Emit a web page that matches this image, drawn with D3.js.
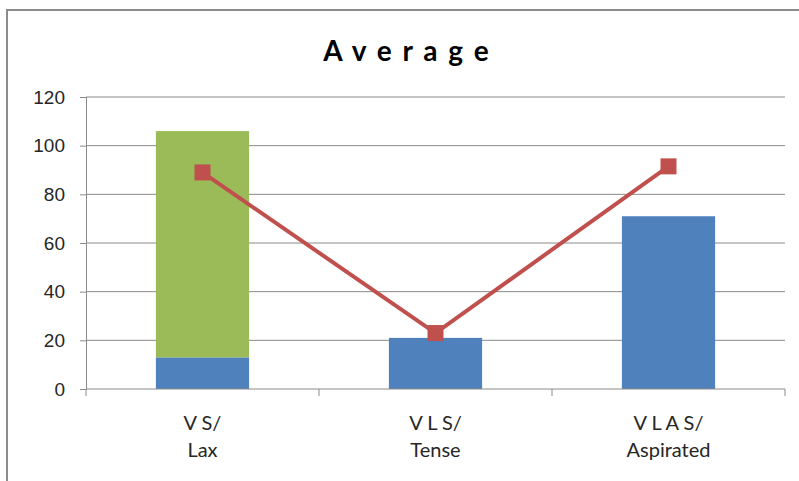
<!DOCTYPE html>
<html>
<head>
<meta charset="utf-8">
<script src="https://cdn.jsdelivr.net/npm/d3@7"></script>
<style>
  body { margin: 0; background: #fff; }
  svg { display: block; font-family: Lato, "Open Sans", sans-serif; }
</style>
</head>
<body>
<svg id="chart"></svg>
<script>
// data
const categories = ["VS", "VLS", "VLAS"];
const labelLines = [["V S/", "Lax"], ["V L S/", "Tense"], ["V L A S/", "Aspirated"]];
const blueValues = [13, 21, 71];
const greenValues = [93, 0, 0];
const lineValues = [89, 23, 91.5];
const yTicks = [0, 20, 40, 60, 80, 100, 120];

const width = 799, height = 481;
const margin = { top: 97, right: 14, bottom: 92, left: 86 };

const svg = d3.select("#chart").attr("width", width).attr("height", height);

// outer frame (runs off the right and bottom)
svg.append("rect")
  .attr("x", 7).attr("y", 10)
  .attr("width", 820).attr("height", 500)
  .attr("fill", "none").attr("stroke", "#8c8c8c").attr("stroke-width", 2);

const x = d3.scaleBand()
  .domain(categories)
  .range([margin.left, width - margin.right])
  .paddingInner(0.6).paddingOuter(0.3);

const y = d3.scaleLinear()
  .domain([0, 120])
  .range([height - margin.bottom, margin.top]);

// gridlines
svg.append("g")
  .selectAll("line")
  .data(yTicks.slice(1))
  .join("line")
    .attr("x1", margin.left).attr("x2", width - margin.right)
    .attr("y1", d => y(d)).attr("y2", d => y(d))
    .attr("stroke", "#8a8a8a").attr("stroke-width", 1);

// y axis
const yAxis = svg.append("g")
  .attr("transform", `translate(${margin.left},0)`)
  .call(d3.axisLeft(y).tickValues(yTicks).tickSize(6).tickPadding(15));
yAxis.selectAll("line, path").attr("stroke", "#8a8a8a");
yAxis.selectAll("text").attr("font-size", 19).attr("fill", "#262626");

// bars (stacked: blue bottom, green on top)
const bars = svg.append("g");
bars.selectAll("rect.blue")
  .data(categories)
  .join("rect")
    .attr("class", "blue")
    .attr("x", d => x(d))
    .attr("width", x.bandwidth())
    .attr("y", (d, i) => y(blueValues[i]))
    .attr("height", (d, i) => y(0) - y(blueValues[i]))
    .attr("fill", "#4f81bd");
bars.selectAll("rect.green")
  .data(categories)
  .join("rect")
    .attr("class", "green")
    .attr("x", d => x(d))
    .attr("width", x.bandwidth())
    .attr("y", (d, i) => y(blueValues[i] + greenValues[i]))
    .attr("height", (d, i) => y(blueValues[i]) - y(blueValues[i] + greenValues[i]))
    .attr("fill", "#9bbb59");

// x axis with ticks at category boundaries
const x0 = margin.left, x1 = width - margin.right;
const xAxis = svg.append("g");
xAxis.append("line")
  .attr("x1", x0).attr("x2", x1)
  .attr("y1", y(0)).attr("y2", y(0))
  .attr("stroke", "#8a8a8a");
xAxis.selectAll("line.tick")
  .data(d3.range(categories.length + 1))
  .join("line")
    .attr("class", "tick")
    .attr("x1", i => x0 + i * (x1 - x0) / categories.length)
    .attr("x2", i => x0 + i * (x1 - x0) / categories.length)
    .attr("y1", y(0)).attr("y2", y(0) + 7)
    .attr("stroke", "#8a8a8a");
xAxis.selectAll("text")
  .data(categories)
  .join("text")
    .attr("x", d => x(d) + x.bandwidth() / 2)
    .attr("y", y(0) + 41)
    .attr("text-anchor", "middle")
    .attr("font-size", 20)
    .attr("fill", "#262626")
    .each(function(d, i) {
      const t = d3.select(this);
      labelLines[i].forEach((line, k) => {
        t.append("tspan")
          .attr("x", x(d) + x.bandwidth() / 2)
          .attr("dy", k === 0 ? 0 : 27)
          .text(line);
      });
    });

// line series with square markers
const cx = d => x(d) + x.bandwidth() / 2;
svg.append("path")
  .datum(categories)
  .attr("fill", "none")
  .attr("stroke", "#c0504d")
  .attr("stroke-width", 4)
  .attr("d", d3.line().x(cx).y((d, i) => y(lineValues[i])));
svg.append("g")
  .selectAll("rect")
  .data(categories)
  .join("rect")
    .attr("x", d => cx(d) - 8)
    .attr("y", (d, i) => y(lineValues[i]) - 8)
    .attr("width", 16).attr("height", 16)
    .attr("fill", "#c0504d");

// title
svg.append("text")
  .attr("x", 407).attr("y", 61)
  .attr("text-anchor", "middle")
  .attr("font-size", 28)
  .attr("font-weight", "bold")
  .attr("letter-spacing", 2)
  .attr("fill", "#000")
  .text("A v e r a g e");
</script>
</body>
</html>
